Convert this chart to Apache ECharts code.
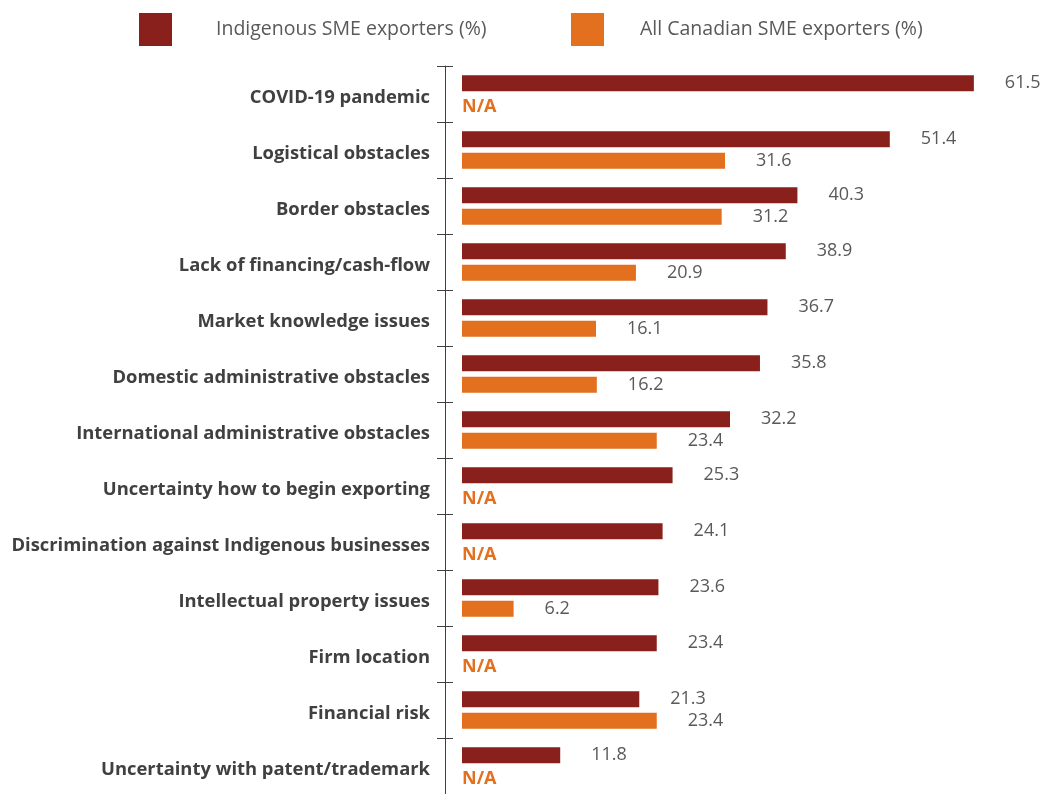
<!DOCTYPE html>
<html>
<head>
<meta charset="utf-8">
<script src="https://cdn.jsdelivr.net/npm/echarts@6/dist/echarts.min.js"></script>
<style>
  html, body { margin: 0; padding: 0; background: #fff; }
  #chart { width: 1042px; height: 794px; }
</style>
</head>
<body>
<div id="chart"></div>
<script>
// Export obstacles reported by SME exporters
const categories = [
  'COVID-19 pandemic',
  'Logistical obstacles',
  'Border obstacles',
  'Lack of financing/cash-flow',
  'Market knowledge issues',
  'Domestic administrative obstacles',
  'International administrative obstacles',
  'Uncertainty how to begin exporting',
  'Discrimination against Indigenous businesses',
  'Intellectual property issues',
  'Firm location',
  'Financial risk',
  'Uncertainty with patent/trademark'
];
const indigenousValues = [61.5, 51.4, 40.3, 38.9, 36.7, 35.8, 32.2, 25.3, 24.1, 23.6, 23.4, 21.3, 11.8];
// null = not available for all Canadian SME exporters
const canadianValues = [null, 31.6, 31.2, 20.9, 16.1, 16.2, 23.4, null, null, 6.2, null, 23.4, null];
const seriesNames = ['Indigenous SME exporters (%)', 'All Canadian SME exporters (%)'];

const RED = '#8A201C';
const ORANGE = '#E2701F';
const GREY = '#595959';
const AXIS = '#404040';
const FONT = 'Open Sans';

const valueLabel = {
  show: true,
  position: 'right',
  distance: 31,
  color: GREY,
  fontFamily: FONT,
  fontSize: 18
};

const canadianData = canadianValues.map(v => v === null
  ? { value: 0, label: { formatter: 'N/A', distance: 0, offset: [0, 2], color: ORANGE, fontWeight: 'bold', fontSize: 18 } }
  : v);

const chart = echarts.init(document.getElementById('chart'));
chart.setOption({
  animation: false,
  textStyle: { fontFamily: FONT },
  legend: [
    {
      data: [seriesNames[0]], left: 139, top: 13, padding: 0,
      icon: 'rect', itemWidth: 33, itemHeight: 33,
      textStyle: { color: GREY, fontSize: 19.5, fontFamily: FONT, padding: [0, 0, 0, 39] }
    },
    {
      data: [seriesNames[1]], left: 571, top: 13, padding: 0,
      icon: 'rect', itemWidth: 33, itemHeight: 33,
      textStyle: { color: GREY, fontSize: 19.5, fontFamily: FONT, padding: [0, 0, 0, 31] }
    }
  ],
  grid: { left: 462, top: 66, width: 541, height: 731 },
  xAxis: { type: 'value', min: 0, max: 65, show: false },
  yAxis: [
    {
      type: 'category', data: categories, inverse: true, position: 'left', offset: 17,
      axisLine: { show: true, onZero: false, lineStyle: { color: AXIS, width: 1 } },
      axisTick: { show: true, length: 8, lineStyle: { color: AXIS } },
      axisLabel: {
        margin: 15,
        formatter: v => '{c|' + v + '}',
        rich: {
          c: { color: AXIS, fontWeight: 'bold', fontSize: 18.4, fontFamily: FONT, padding: [7, 0, 0, 0] }
        }
      }
    },
    {
      // right-hand half of the crossing tick marks
      type: 'category', data: categories, inverse: true, position: 'right', offset: -558,
      axisLine: { show: false, onZero: false },
      axisTick: { show: true, length: 8, lineStyle: { color: AXIS } },
      axisLabel: { show: false }
    }
  ],
  series: [
    {
      name: seriesNames[0], type: 'bar', data: indigenousValues,
      itemStyle: { color: RED }, barWidth: 16, barGap: '35%',
      label: valueLabel
    },
    {
      name: seriesNames[1], type: 'bar', data: canadianData,
      itemStyle: { color: ORANGE }, barWidth: 16, barGap: '35%',
      label: valueLabel
    }
  ]
});
</script>
</body>
</html>
